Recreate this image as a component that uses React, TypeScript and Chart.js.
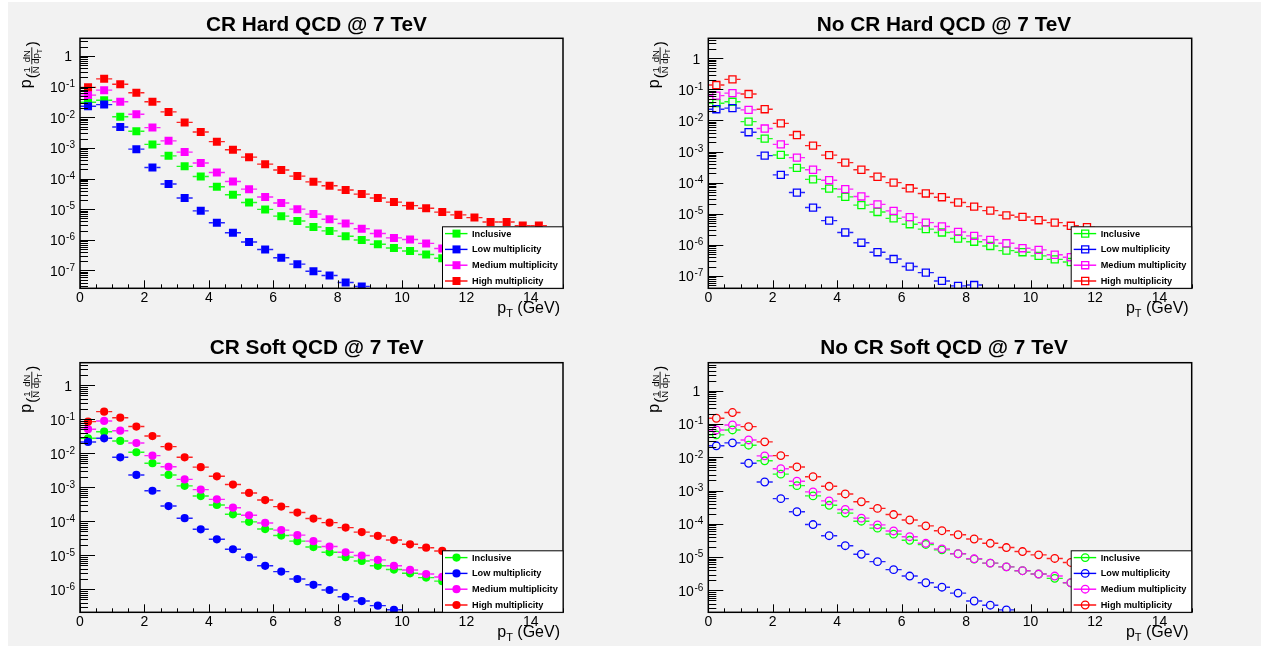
import React, { useEffect, useRef } from "react";
import { Chart, registerables } from "chart.js";

Chart.register(...registerables);

// ---------------- data ----------------
const ptBins = [0.25, 0.75, 1.25, 1.75, 2.25, 2.75, 3.25, 3.75, 4.25, 4.75, 5.25, 5.75, 6.25, 6.75, 7.25, 7.75, 8.25, 8.75, 9.25, 9.75, 10.25, 10.75, 11.25, 11.75, 12.25, 12.75, 13.25, 13.75, 14.25, 14.75];
const ptBinHalfWidth = 0.25;

const seriesLabels = ["Inclusive", "Low multiplicity", "Medium multiplicity", "High multiplicity"];
const panelTitles = ["CR Hard QCD @ 7 TeV", "No CR Hard QCD @ 7 TeV", "CR Soft QCD @ 7 TeV", "No CR Soft QCD @ 7 TeV"];
const xTickValues = [0, 2, 4, 6, 8, 10, 12, 14];
const yTickExponentsHard = [0, -1, -2, -3, -4, -5, -6, -7];
const yTickExponentsSoft = [0, -1, -2, -3, -4, -5, -6];

const crHardInclusive = [0.031, 0.036, 0.0104, 0.0035, 0.0013, 5.5e-4, 2.5e-4, 1.17e-4, 5.4e-5, 2.95e-5, 1.65e-5, 9.8e-6, 5.9e-6, 4.1e-6, 2.6e-6, 1.95e-6, 1.3e-6, 9.8e-7, 7.1e-7, 5.4e-7, 4.3e-7, 3.3e-7, 2.5e-7];
const crHardLow = [0.023, 0.026, 0.0048, 9.1e-4, 2.3e-4, 6.6e-5, 2.3e-5, 8.8e-6, 3.6e-6, 1.7e-6, 8.5e-7, 4.8e-7, 2.6e-7, 1.6e-7, 9.4e-8, 6.8e-8, 4.0e-8, 3.0e-8];
const crHardMedium = [0.053, 0.077, 0.032, 0.0125, 0.0046, 0.0017, 7.3e-4, 3.2e-4, 1.57e-4, 8.0e-5, 4.5e-5, 2.5e-5, 1.58e-5, 1.0e-5, 6.9e-6, 4.7e-6, 3.4e-6, 2.3e-6, 1.6e-6, 1.15e-6, 1.02e-6, 7.6e-7, 5.2e-7];
const crHardHigh = [0.095, 0.18, 0.12, 0.063, 0.032, 0.015, 0.0068, 0.0033, 0.0016, 8.7e-4, 5.0e-4, 2.95e-4, 1.9e-4, 1.2e-4, 7.8e-5, 5.8e-5, 4.2e-5, 3.1e-5, 2.3e-5, 1.7e-5, 1.3e-5, 1.07e-5, 8.0e-6, 6.5e-6, 5.3e-6, 3.8e-6, 3.8e-6, 2.9e-6, 2.9e-6];

const noCrHardInclusive = [0.036, 0.04, 0.0092, 0.0026, 7.8e-4, 3.0e-4, 1.28e-4, 6.4e-5, 3.5e-5, 1.9e-5, 1.14e-5, 7.1e-6, 4.6e-6, 3.2e-6, 2.5e-6, 1.6e-6, 1.26e-6, 9.2e-7, 6.5e-7, 5.8e-7, 4.4e-7, 3.4e-7, 2.8e-7];
const noCrHardLow = [0.023, 0.025, 0.0042, 7.4e-4, 1.78e-4, 4.8e-5, 1.58e-5, 6.0e-6, 2.5e-6, 1.17e-6, 5.8e-7, 3.5e-7, 2.0e-7, 1.28e-7, 6.9e-8, 4.8e-8, 5.1e-8];
const noCrHardMedium = [0.063, 0.076, 0.022, 0.0055, 0.0017, 6.4e-4, 2.6e-4, 1.2e-4, 6.2e-5, 3.6e-5, 2.0e-5, 1.24e-5, 7.8e-6, 5.2e-6, 3.9e-6, 2.6e-6, 1.94e-6, 1.45e-6, 1.12e-6, 7.8e-7, 6.9e-7, 4.8e-7, 4.0e-7];
const noCrHardHigh = [0.138, 0.21, 0.071, 0.023, 0.0081, 0.0034, 0.00155, 7.7e-4, 4.4e-4, 2.6e-4, 1.55e-4, 1.0e-4, 6.6e-5, 4.5e-5, 3.4e-5, 2.3e-5, 1.7e-5, 1.26e-5, 8.9e-6, 7.9e-6, 6.2e-6, 5.2e-6, 4.1e-6, 3.7e-6];

const crSoftInclusive = [0.0275, 0.043, 0.023, 0.0107, 0.0051, 0.0023, 0.0011, 5.5e-4, 3.0e-4, 1.6e-4, 9.6e-5, 5.9e-5, 3.8e-5, 2.6e-5, 1.74e-5, 1.22e-5, 8.8e-6, 6.8e-6, 4.9e-6, 3.8e-6, 2.95e-6, 2.2e-6, 1.73e-6];
const crSoftLow = [0.0215, 0.0275, 0.0076, 0.0023, 7.9e-4, 2.8e-4, 1.23e-4, 5.8e-5, 2.95e-5, 1.5e-5, 8.8e-6, 4.9e-6, 3.3e-6, 2.0e-6, 1.35e-6, 9.5e-7, 6.0e-7, 4.5e-7, 3.3e-7, 2.5e-7];
const crSoftMedium = [0.051, 0.089, 0.046, 0.02, 0.0085, 0.004, 0.0017, 8.5e-4, 4.4e-4, 2.5e-4, 1.5e-4, 8.9e-5, 5.5e-5, 3.9e-5, 2.6e-5, 1.8e-5, 1.22e-5, 9.8e-6, 7.3e-6, 4.9e-6, 3.7e-6, 2.8e-6, 2.3e-6];
const crSoftHigh = [0.085, 0.167, 0.111, 0.061, 0.032, 0.0156, 0.0076, 0.0039, 0.0021, 0.0012, 6.8e-4, 4.2e-4, 2.7e-4, 1.8e-4, 1.2e-4, 9.1e-5, 6.5e-5, 4.8e-5, 3.7e-5, 2.8e-5, 2.1e-5, 1.67e-5, 1.34e-5];

const noCrSoftInclusive = [0.047, 0.066, 0.023, 0.0078, 0.0031, 0.0014, 6.9e-4, 3.6e-4, 2.1e-4, 1.2e-4, 7.4e-5, 4.9e-5, 3.2e-5, 2.4e-5, 1.65e-5, 1.26e-5, 8.7e-6, 6.6e-6, 5.1e-6, 3.9e-6, 3.1e-6, 2.3e-6, 1.7e-6];
const noCrSoftLow = [0.022, 0.027, 0.0066, 0.0018, 5.7e-4, 2.3e-4, 9.5e-5, 4.4e-5, 2.2e-5, 1.22e-5, 7.3e-6, 4.2e-6, 2.7e-6, 1.7e-6, 1.25e-6, 8.3e-7, 4.8e-7, 3.6e-7, 2.6e-7];
const noCrSoftMedium = [0.066, 0.093, 0.033, 0.011, 0.0045, 0.0019, 9.1e-4, 4.9e-4, 2.7e-4, 1.48e-4, 9.3e-5, 6.1e-5, 4.1e-5, 2.6e-5, 1.77e-5, 1.26e-5, 8.9e-6, 6.6e-6, 5.1e-6, 3.9e-6, 3.1e-6, 2.7e-6, 1.7e-6];
const noCrSoftHigh = [0.148, 0.22, 0.083, 0.029, 0.0112, 0.0051, 0.0026, 0.00134, 7.9e-4, 4.6e-4, 2.9e-4, 1.9e-4, 1.3e-4, 8.7e-5, 6.2e-5, 4.7e-5, 3.5e-5, 2.6e-5, 1.94e-5, 1.47e-5, 1.17e-5, 9.1e-6, 6.9e-6];

// ---------------- styles / layout ----------------
const seriesColors = ["#00ff00", "#0000ff", "#ff00ff", "#ff0000"];
const FONT = '"Liberation Sans", Arial, Helvetica, sans-serif';

type PanelCfg = {
  title: string;
  left: number; top: number; width: number; height: number;
  pad: { left: number; top: number; right: number; bottom: number };
  yMin: number; yMax: number; yExps: number[];
  marker: "rect" | "circle"; filled: boolean; radius: number; half: number;
  titleX: number;
  series: number[][];
};

const PANELS: PanelCfg[] = [
  {
    title: panelTitles[0], left: 0, top: 0, width: 630, height: 323,
    pad: { left: 80, top: 38.3, right: 67, bottom: 34.7 },
    yMin: 2.6e-8, yMax: 3.8, yExps: yTickExponentsHard,
    marker: "rect", filled: true, radius: 5.66, half: 4, titleX: 316.5,
    series: [crHardInclusive, crHardLow, crHardMedium, crHardHigh],
  },
  {
    title: panelTitles[1], left: 630, top: 0, width: 631, height: 323,
    pad: { left: 78.3, top: 38.3, right: 69.3, bottom: 34.7 },
    yMin: 4.0e-8, yMax: 4.4, yExps: yTickExponentsHard,
    marker: "rect", filled: false, radius: 5.0, half: 4.2, titleX: 314,
    series: [noCrHardInclusive, noCrHardLow, noCrHardMedium, noCrHardHigh],
  },
  {
    title: panelTitles[2], left: 0, top: 323, width: 630, height: 323,
    pad: { left: 80, top: 39.7, right: 67, bottom: 33.7 },
    yMin: 2.1e-7, yMax: 4.6, yExps: yTickExponentsSoft,
    marker: "circle", filled: true, radius: 4.1, half: 4.1, titleX: 316.7,
    series: [crSoftInclusive, crSoftLow, crSoftMedium, crSoftHigh],
  },
  {
    title: panelTitles[3], left: 630, top: 323, width: 631, height: 323,
    pad: { left: 78.3, top: 39.7, right: 69.3, bottom: 33.7 },
    yMin: 2.2e-7, yMax: 6.9, yExps: yTickExponentsSoft,
    marker: "circle", filled: false, radius: 3.8, half: 4.4, titleX: 314,
    series: [noCrSoftInclusive, noCrSoftLow, noCrSoftMedium, noCrSoftHigh],
  },
];

function drawMarker(ctx: CanvasRenderingContext2D, cfg: PanelCfg, color: string, x: number, y: number) {
  ctx.save();
  ctx.beginPath();
  if (cfg.marker === "rect") {
    const s = cfg.radius * Math.SQRT1_2;
    ctx.rect(x - s, y - s, 2 * s, 2 * s);
  } else {
    ctx.arc(x, y, cfg.radius, 0, Math.PI * 2);
  }
  if (cfg.filled) {
    ctx.fillStyle = color;
    ctx.fill();
  } else {
    ctx.strokeStyle = color;
    ctx.lineWidth = 1.3;
    ctx.stroke();
  }
  ctx.restore();
}

function Panel({ cfg }: { cfg: PanelCfg }) {
  const ref = useRef<HTMLCanvasElement | null>(null);

  useEffect(() => {
    const canvas = ref.current;
    if (!canvas) return;

    const datasets = cfg.series.map((vals, i) => ({
      label: seriesLabels[i],
      data: vals.map((v, j) => ({ x: ptBins[j], y: v })),
      showLine: false,
      pointStyle: cfg.marker,
      pointRadius: cfg.radius,
      pointHoverRadius: cfg.radius,
      pointBackgroundColor: cfg.filled ? seriesColors[i] : "rgba(0,0,0,0)",
      pointBorderColor: seriesColors[i],
      pointBorderWidth: cfg.filled ? 0 : 1.3,
      order: 4 - i,
      clip: 0,
    }));

    const errPlugin = {
      id: "rootErrorBars",
      beforeDatasetsDraw(chart: any) {
        const ctx: CanvasRenderingContext2D = chart.ctx;
        const a = chart.chartArea;
        const xs = chart.scales.x;
        const ys = chart.scales.y;
        ctx.save();
        ctx.beginPath();
        ctx.rect(a.left, a.top, a.right - a.left, a.bottom - a.top);
        ctx.clip();
        ctx.lineWidth = 1.4;
        cfg.series.forEach((vals, i) => {
          ctx.strokeStyle = seriesColors[i];
          ctx.globalAlpha = 0.85;
          vals.forEach((v, j) => {
            const x = ptBins[j];
            const px = xs.getPixelForValue(x);
            const py = ys.getPixelForValue(v);
            const xl = xs.getPixelForValue(x - ptBinHalfWidth);
            const xr = xs.getPixelForValue(x + ptBinHalfWidth);
            ctx.beginPath();
            ctx.moveTo(xl, py);
            ctx.lineTo(px - cfg.half, py);
            ctx.moveTo(px + cfg.half, py);
            ctx.lineTo(xr, py);
            ctx.stroke();
          });
        });
        ctx.restore();
      },
    };

    const decoPlugin = {
      id: "rootDecorations",
      afterDraw(chart: any) {
        const ctx: CanvasRenderingContext2D = chart.ctx;
        const a = chart.chartArea;
        const xs = chart.scales.x;
        const ys = chart.scales.y;
        ctx.save();
        ctx.fillStyle = "#000";
        ctx.strokeStyle = "#000";

        // frame
        ctx.lineWidth = 1.5;
        ctx.strokeRect(a.left, a.top, a.right - a.left, a.bottom - a.top);

        // y ticks
        ctx.lineWidth = 1;
        const eLo = Math.floor(Math.log10(cfg.yMin));
        const eHi = Math.ceil(Math.log10(cfg.yMax));
        for (let e = eLo; e <= eHi; e++) {
          for (let k = 1; k <= 9; k++) {
            const v = k * Math.pow(10, e);
            if (v < cfg.yMin || v > cfg.yMax) continue;
            const py = Math.round(ys.getPixelForValue(v)) + 0.5;
            const len = k === 1 ? 15 : 8;
            ctx.beginPath();
            ctx.moveTo(a.left, py);
            ctx.lineTo(a.left + len, py);
            ctx.stroke();
          }
        }
        // x ticks
        for (let t = 0; t <= 30; t++) {
          const v = t * 0.5;
          const px = Math.round(xs.getPixelForValue(v)) + 0.5;
          const len = t % 4 === 0 ? 8 : 4;
          ctx.beginPath();
          ctx.moveTo(px, a.bottom);
          ctx.lineTo(px, a.bottom - len);
          ctx.stroke();
        }

        // legend
        const lL = a.right - 120.5;
        const lT = a.bottom - 61.5;
        ctx.fillStyle = "#fff";
        ctx.fillRect(lL, lT, a.right - lL, a.bottom - lT);
        ctx.lineWidth = 1;
        ctx.strokeStyle = "#000";
        ctx.strokeRect(lL, lT, a.right - lL, a.bottom - lT);
        seriesLabels.forEach((lab, i) => {
          const ry = lT + 6.8 + i * 15.8;
          ctx.strokeStyle = seriesColors[i];
          ctx.lineWidth = 1.4;
          ctx.beginPath();
          ctx.moveTo(lL + 2.5, ry);
          ctx.lineTo(lL + 25, ry);
          ctx.stroke();
          drawMarker(ctx, cfg, seriesColors[i], lL + 14, ry);
          ctx.fillStyle = "#000";
          ctx.font = `bold 9.2px ${FONT}`;
          ctx.textAlign = "left";
          ctx.textBaseline = "middle";
          ctx.fillText(lab, lL + 29.5, ry + 0.5);
        });

        // x tick labels
        ctx.fillStyle = "#000";
        ctx.textBaseline = "alphabetic";
        ctx.textAlign = "center";
        ctx.font = `14px ${FONT}`;
        xTickValues.forEach((v) => {
          ctx.fillText(String(v), xs.getPixelForValue(v), a.bottom + 14);
        });

        // y tick labels
        cfg.yExps.forEach((e) => {
          const py = ys.getPixelForValue(Math.pow(10, e));
          const xr = a.left - 5;
          if (e === 0) {
            ctx.font = `14px ${FONT}`;
            ctx.textAlign = "right";
            ctx.fillText("1", xr - 3, py + 5.3);
          } else {
            const ex = "-" + String(-e);
            ctx.font = `10px ${FONT}`;
            const we = ctx.measureText(ex).width;
            ctx.textAlign = "right";
            ctx.fillText(ex, xr, py + 0.3);
            ctx.font = `14px ${FONT}`;
            ctx.fillText("10", xr - we - 0.5, py + 5.5);
          }
        });

        // x axis title: p_T (GeV)
        {
          const base = a.bottom + 24.5;
          ctx.textAlign = "left";
          ctx.font = `16px ${FONT}`;
          const w1 = ctx.measureText("p").width;
          const w3 = ctx.measureText(" (GeV)").width;
          ctx.font = `11px ${FONT}`;
          const w2 = ctx.measureText("T").width;
          const start = a.right - 3 - (w1 + w2 + w3);
          ctx.font = `16px ${FONT}`;
          ctx.fillText("p", start, base);
          ctx.font = `11px ${FONT}`;
          ctx.fillText("T", start + w1, base + 4);
          ctx.font = `16px ${FONT}`;
          ctx.fillText(" (GeV)", start + w1 + w2, base);
        }

        // y axis title: p (1/N dN/dp_T), rotated
        {
          const baseV = a.left - 49;
          const y0 = a.top + 50;
          ctx.save();
          ctx.translate(0, y0);
          ctx.rotate(-Math.PI / 2);
          ctx.textAlign = "left";
          ctx.font = `16px ${FONT}`;
          ctx.fillText("p", 0, baseV);
          ctx.font = `15px ${FONT}`;
          ctx.fillText("(", 10, baseV + 5.5);
          ctx.textAlign = "center";
          ctx.font = `9.5px ${FONT}`;
          ctx.fillText("1", 18.5, baseV - 0.8);
          ctx.fillText("N", 18.5, baseV + 8.2);
          ctx.fillText("dN", 32, baseV - 0.8);
          ctx.lineWidth = 0.9;
          ctx.strokeStyle = "#000";
          ctx.beginPath();
          ctx.moveTo(15, baseV + 0.8);
          ctx.lineTo(22, baseV + 0.8);
          ctx.moveTo(24, baseV + 0.8);
          ctx.lineTo(41, baseV + 0.8);
          ctx.stroke();
          ctx.textAlign = "left";
          const wdp = ctx.measureText("dp").width;
          ctx.fillText("dp", 24.5, baseV + 8.2);
          ctx.font = `7px ${FONT}`;
          ctx.fillText("T", 24.5 + wdp, baseV + 10.5);
          ctx.font = `15px ${FONT}`;
          ctx.fillText(")", 42, baseV + 5.5);
          ctx.restore();
        }

        // title
        ctx.textAlign = "center";
        ctx.font = `bold 20.8px ${FONT}`;
        ctx.fillStyle = "#000";
        ctx.fillText(cfg.title, cfg.titleX, 31);

        ctx.restore();
      },
    };

    const chart = new Chart(canvas, {
      type: "scatter",
      data: { datasets: datasets as any },
      options: {
        animation: false,
        responsive: false,
        maintainAspectRatio: false,
        events: [],
        layout: { padding: cfg.pad },
        scales: {
          x: { type: "linear", min: 0, max: 15, display: false },
          y: { type: "logarithmic", min: cfg.yMin, max: cfg.yMax, display: false },
        },
        plugins: {
          legend: { display: false },
          tooltip: { enabled: false },
          title: { display: false },
        },
      },
      plugins: [errPlugin, decoPlugin],
    } as any);

    return () => chart.destroy();
  }, [cfg]);

  return (
    <canvas
      ref={ref}
      width={cfg.width}
      height={cfg.height}
      style={{ position: "absolute", left: cfg.left, top: cfg.top, width: cfg.width, height: cfg.height }}
    />
  );
}

export default function App() {
  return (
    <div style={{ position: "fixed", left: 0, top: 0, width: 1261, height: 646, background: "#ffffff", overflow: "hidden" }}>
      <div style={{ position: "absolute", left: 8, top: 2, right: 0, bottom: 0, background: "#f2f2f2" }} />
      {PANELS.map((p, i) => (
        <Panel key={i} cfg={p} />
      ))}
    </div>
  );
}
